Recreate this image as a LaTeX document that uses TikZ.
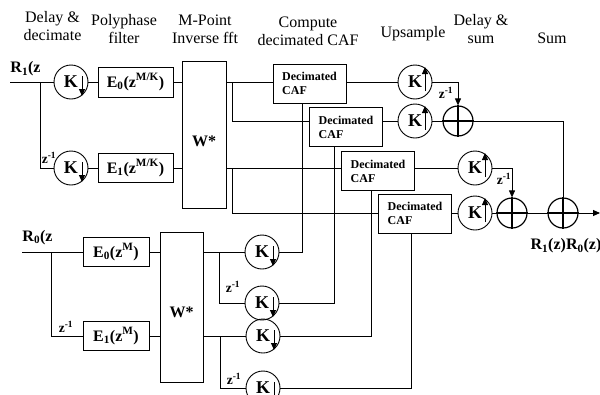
\documentclass[tikz,border=0pt]{standalone}
\usepackage{fontspec}
\setmainfont{Liberation Serif}
\usetikzlibrary{arrows.meta}
\newcommand\kdn[2]{\node[kc] (#1) at (#2) {K\hspace{4pt}};
  \draw[tip] ([shift={(11,-6)}]#1.center) -- ([shift={(11,14)}]#1.center);}
\newcommand\kup[2]{\node[kc] (#1) at (#2) {K\hspace{4pt}};
  \draw[tip] ([shift={(10,9)}]#1.center) -- ([shift={(10,-15)}]#1.center);}
\begin{document}
\begin{tikzpicture}[x=1pt,y=-1pt,line width=0.9pt,
  hdr/.style={font=\fontsize{16}{18}\selectfont,align=center,inner sep=0},
  lab/.style={font=\bfseries\fontsize{16}{18}\selectfont,inner sep=0},
  zl/.style={font=\bfseries\fontsize{13.5}{13.5}\selectfont,inner sep=0},
  kc/.style={circle,draw,minimum size=34pt,inner sep=0,font=\bfseries\fontsize{18}{18}\selectfont},
  blk/.style={draw,inner sep=0,font=\bfseries\fontsize{16}{18}\selectfont},
  caf/.style={draw,minimum width=73pt,minimum height=39pt,inner sep=0,align=left,font=\bfseries\fontsize{12}{14}\selectfont},
  sumc/.style={circle,draw,minimum size=30pt,inner sep=0,line width=1.2pt},
  tip/.style={-{Triangle[length=7pt,width=6pt]}}]
\path[use as bounding box,fill=white] (0,0) rectangle (600,394);

% headers
\node[hdr] (h1) at (52.5,26.3) {Delay \&\\decimate};
\node[hdr] (h2) at (124,29.5) {Polyphase\\filter};
\node[hdr] (h3) at (205,29.5) {M-Point\\Inverse fft};
\node[hdr] (h4) at (308,31.5) {Compute\\decimated CAF};
\node[hdr,anchor=base] (h5) at (413,37) {Upsample};
\node[hdr] (h6) at (481,29.5) {Delay \&\\sum};
\node[hdr,anchor=base] (h7) at (552,43) {Sum};

% top section
\node[lab,anchor=base west] (r1) at (10,72.5) {R\textsubscript{1}(z};
\coordinate (in1) at (10,82);
\coordinate (bA) at (40,82);
\kdn{kd1}{71,82}
\kdn{kd2}{71,168}
\node[blk,minimum width=75pt,minimum height=30pt] (e0) at (135.5,82) {E\textsubscript{0}(z\textsuperscript{M/K})};
\node[blk,minimum width=75pt,minimum height=29pt] (e1) at (135.5,168) {E\textsubscript{1}(z\textsuperscript{M/K})};
\node[blk,minimum width=44pt,minimum height=147pt] (wt) at (204,134.5) {\raisebox{-11.5pt}[0pt][0pt]{W*}};
\node[zl] (z1) at (49,158) {z\textsuperscript{-1}};

\node[caf] (c1) at (309.5,83.5) {Decimated\\CAF};
\node[caf] (c2) at (346,127) {Decimated\\CAF};
\node[caf] (c3) at (378,171) {Decimated\\CAF};
\node[caf] (c4) at (415,213.5) {Decimated\\CAF};

\kup{ku1}{415,82}
\kup{ku2}{415,121}
\kup{ku3}{475,168}
\kup{ku4}{475,213}
\node[sumc] (s1) at (458,121) {};
\node[sumc] (s2) at (512,213) {};
\node[sumc] (s3) at (563,213) {};
\foreach \s in {s1,s2,s3}
  \draw[line width=1.5pt] (\s.north) -- (\s.south) (\s.west) -- (\s.east);
\coordinate (out) at (600,213);
\node[zl] (z2) at (446,93) {z\textsuperscript{-1}};
\node[zl] (z3) at (504,179) {z\textsuperscript{-1}};
\node[lab] (res) at (566,246) {R\textsubscript{1}(z)R\textsubscript{0}(z)};

\draw (in1) -- (kd1.west);
\draw (bA) |- (kd2.west);
\draw (kd1.east) -- (e0.west);
\draw (kd2.east) -- (e1.west);
\draw (e0.east) -- (wt.west |- e0.east);
\draw (e1.east) -- (wt.west |- e1.east);
\coordinate (j1) at (232,82);
\coordinate (j2) at (232,168);
\draw (wt.east |- kd1) -- (c1.west |- kd1);
\draw (j1) |- (c2.west |- ku2);
\draw (wt.east |- kd2) -- (c3.west |- ku3);
\draw (j2) |- (c4.west |- ku4);

\draw (c1.east |- ku1) -- (ku1.west);
\draw (c2.east |- ku2) -- (ku2.west);
\draw (c3.east |- ku3) -- (ku3.west);
\draw (c4.east |- ku4) -- (ku4.west);
\draw[tip] (ku1.east) -| (s1.north);
\draw (ku2.east) -- (s1.west);
\draw (s1.east) -| (s3.north);
\draw[tip] (ku3.east) -| (s2.north);
\draw (ku4.east) -- (s2.west);
\draw (s2.east) -- (s3.west);
\draw[tip] (s3.east) -- (out);

% bottom section
\node[lab,anchor=base west] (r0) at (22,241) {R\textsubscript{0}(z};
\coordinate (in0) at (22,252);
\coordinate (bB) at (51,252);
\node[blk,minimum width=66pt,minimum height=29pt] (e0b) at (116,252) {E\textsubscript{0}(z\textsuperscript{M})};
\node[blk,minimum width=66pt,minimum height=29pt] (e1b) at (116,336) {E\textsubscript{1}(z\textsuperscript{M})};
\node[blk,minimum width=43pt,minimum height=150pt] (wb) at (181.5,307) {\raisebox{-10.25pt}[0pt][0pt]{W*}};
\kdn{kb1}{262,252}
\kdn{kb2}{262,303}
\kdn{kb3}{263,336}
\kdn{kb4}{263,388}
\node[zl] (z4) at (66,327) {z\textsuperscript{-1}};
\node[zl] (z5) at (233,287) {z\textsuperscript{-1}};
\node[zl] (z6) at (234,379) {z\textsuperscript{-1}};
\coordinate (j3) at (219,252);
\coordinate (j4) at (220,336);

\draw (in0) -- (e0b.west);
\draw (bB) |- (e1b.west);
\draw (e0b.east) -- (wb.west |- e0b.east);
\draw (e1b.east) -- (wb.west |- e1b.east);
\draw (wb.east |- kb1) -- (kb1.west);
\draw (j3) |- (kb2.west);
\draw (wb.east |- kb3) -- (kb3.west);
\draw (j4) |- (kb4.west);
\draw (kb1.east) -| ([xshift=-7.5pt]c1.south);
\draw (kb2.east) -| ([xshift=-12pt]c2.south);
\draw (kb3.east) -| ([xshift=-7pt]c3.south);
\draw (kb4.east) -| ([xshift=-4pt]c4.south);
\end{tikzpicture}
\end{document}
